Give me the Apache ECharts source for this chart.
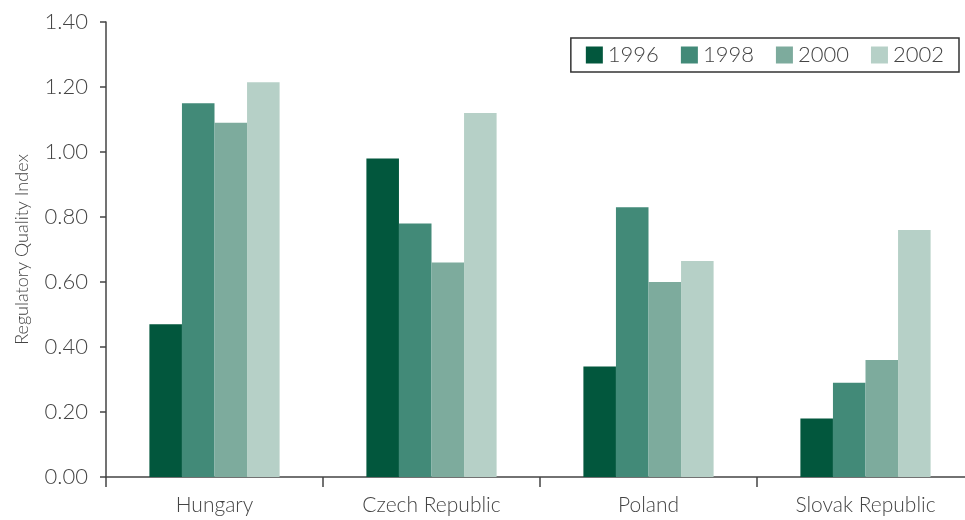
<!DOCTYPE html>
<html>
<head>
<meta charset="utf-8">
<style>
html, body { margin: 0; padding: 0; background: #fff; }
#chart { width: 965px; height: 520px; }
</style>
<script src="https://cdn.jsdelivr.net/npm/echarts@6/dist/echarts.min.js"></script>
</head>
<body>
<div id="chart"></div>
<script>
// 国家与年份
var countries = ['Hungary', 'Czech Republic', 'Poland', 'Slovak Republic'];
var years = ['1996', '1998', '2000', '2002'];

// 各年份数值
var v1996 = [0.47, 0.98, 0.34, 0.18];
var v1998 = [1.15, 0.78, 0.83, 0.29];
var v2000 = [1.09, 0.66, 0.60, 0.36];
var v2002 = [1.215, 1.12, 0.665, 0.76];

var colors = ['#02573d', '#428a78', '#7dab9d', '#b6d0c7'];
var textColor = '#444';
var font = 'Lato';

var chart = echarts.init(document.getElementById('chart'));

var seriesData = [v1996, v1998, v2000, v2002];
var series = years.map(function (y, i) {
	return {
		name: y,
		type: 'bar',
		data: seriesData[i],
		barGap: '0%',
		barCategoryGap: '40%',
		itemStyle: { color: colors[i] }
	};
});

chart.setOption({
	animation: false,
	color: colors,
	legend: {
		data: years,
		right: 6,
		top: 38,
		icon: 'rect',
		itemWidth: 17,
		itemHeight: 17,
		itemGap: 22,
		padding: [6, 15, 6, 15],
		borderColor: '#333',
		borderWidth: 1.5,
		textStyle: { fontFamily: font, fontSize: 22, color: textColor, fontWeight: 300 }
	},
	grid: {
		left: 106,
		right: -9,
		top: 22,
		bottom: 43,
		containLabel: false,
		outerBoundsMode: 'none'
	},
	xAxis: {
		type: 'category',
		data: countries,
		axisLine: { lineStyle: { color: '#444', width: 1.5 } },
		axisTick: { show: true, length: 10, lineStyle: { color: '#444', width: 1.5 } },
		axisLabel: { fontFamily: font, fontSize: 21, color: textColor, margin: 18, fontWeight: 300 }
	},
	yAxis: {
		type: 'value',
		min: 0,
		max: 1.4,
		interval: 0.2,
		name: 'Regulatory Quality Index',
		nameLocation: 'middle',
		nameGap: 75,
		nameTextStyle: { fontFamily: font, fontSize: 18, color: textColor, fontWeight: 300 },
		axisLine: { show: true, lineStyle: { color: '#444', width: 1.5 } },
		axisTick: { show: true, length: 6, lineStyle: { color: '#444', width: 1.5 } },
		splitLine: { show: false },
		axisLabel: {
			fontFamily: font,
			fontSize: 22,
			color: textColor,
			margin: 18,
			fontWeight: 300,
			formatter: function (v) { return v.toFixed(2); }
		}
	},
	series: series
});
</script>
</body>
</html>
